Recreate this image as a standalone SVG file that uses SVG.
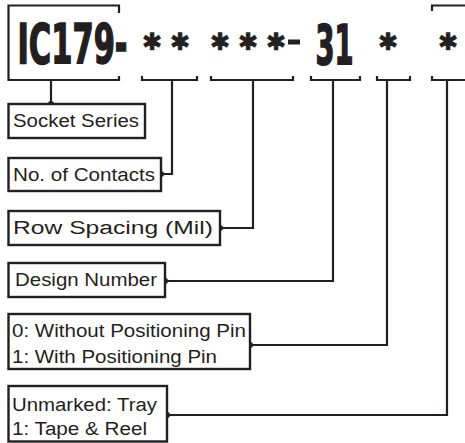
<svg xmlns="http://www.w3.org/2000/svg" width="465" height="443" viewBox="0 0 465 443">
<style>
.box{fill:#fff;stroke:#231f20;stroke-width:2.4}
.ln{fill:none;stroke:#231f20;stroke-width:2.2}
.lbl{font-family:"Liberation Sans",Arial,sans-serif;font-size:18px;fill:#231f20}
.big{font-family:"DejaVu Sans Condensed","DejaVu Sans",sans-serif;font-weight:bold;font-size:34px;fill:#231f20;stroke:#231f20;stroke-width:1}
.ast{font-family:"DejaVu Sans",sans-serif;font-size:24px;fill:#231f20;stroke:#231f20;stroke-width:0.6;text-anchor:middle}
.dot{fill:#231f20}
</style>
<g id="code">
<path class="ln" d="M119,13 V5.5 H8.5 V80 H119 V76"/>
<text class="big" transform="translate(17.5,62.5) scale(1,1.62)" textLength="110" lengthAdjust="spacingAndGlyphs">IC179-</text>
<text class="ast" x="152" y="50">✱</text>
<text class="ast" x="180" y="50">✱</text>
<text class="ast" x="220" y="50">✱</text>
<text class="ast" x="248" y="50">✱</text>
<text class="ast" x="276" y="50">✱</text>
<rect class="dot" x="288" y="39.5" width="12" height="5"/>
<text class="big" transform="translate(315.5,63.5) scale(1,1.62)" textLength="38" lengthAdjust="spacingAndGlyphs">31</text>
<text class="ast" x="388" y="50">✱</text>
<text class="ast" x="448" y="50">✱</text>
<path class="ln" d="M142,76 V80 H197 V76"/>
<path class="ln" d="M211,76 V80 H293 V76"/>
<path class="ln" d="M311,76 V80 H360 V76"/>
<path class="ln" d="M377,76 V80 H410 V76"/>
<path class="ln" d="M432,76 V80 H466"/>
<path class="ln" d="M432,11 V5.5 H466"/>
</g>
<g id="connectors">
<path class="ln" d="M51,80 V104"/>
<circle class="dot" cx="51" cy="104" r="3"/>
<path class="ln" d="M161,174 H172 V80"/>
<circle class="dot" cx="161" cy="174" r="3"/>
<path class="ln" d="M220,228 H253 V80"/>
<circle class="dot" cx="220" cy="228" r="3"/>
<path class="ln" d="M165,281 H333 V80"/>
<circle class="dot" cx="165" cy="281" r="3"/>
<path class="ln" d="M250,345 H387 V80"/>
<circle class="dot" cx="250" cy="345" r="3"/>
<path class="ln" d="M167,415 H447 V80"/>
<circle class="dot" cx="167" cy="415" r="3"/>
</g>
<g id="socket-series">
<rect class="box" x="8.5" y="104" width="136.5" height="34"/>
<text class="lbl" x="13" y="127" textLength="126" lengthAdjust="spacingAndGlyphs">Socket Series</text>
</g>
<g id="no-of-contacts">
<rect class="box" x="8.5" y="158" width="152.5" height="33"/>
<text class="lbl" x="13" y="181" textLength="142" lengthAdjust="spacingAndGlyphs">No. of Contacts</text>
</g>
<g id="row-spacing">
<rect class="box" x="8.5" y="211" width="211.5" height="34"/>
<text class="lbl" x="13" y="234" textLength="200" lengthAdjust="spacingAndGlyphs">Row Spacing (Mil)</text>
</g>
<g id="design-number">
<rect class="box" x="8.5" y="263" width="156.5" height="34"/>
<text class="lbl" x="15" y="286" textLength="142" lengthAdjust="spacingAndGlyphs">Design Number</text>
</g>
<g id="positioning-pin">
<rect class="box" x="8.5" y="314" width="241.5" height="55"/>
<text class="lbl" x="12" y="337" textLength="234" lengthAdjust="spacingAndGlyphs">0: Without Positioning Pin</text>
<text class="lbl" x="12" y="363" textLength="205" lengthAdjust="spacingAndGlyphs">1: With Positioning Pin</text>
</g>
<g id="packaging">
<rect class="box" x="8.5" y="386" width="158.5" height="55.5"/>
<text class="lbl" x="12" y="411" textLength="145" lengthAdjust="spacingAndGlyphs">Unmarked: Tray</text>
<text class="lbl" x="12" y="435" textLength="135" lengthAdjust="spacingAndGlyphs">1: Tape &amp; Reel</text>
</g>
</svg>
